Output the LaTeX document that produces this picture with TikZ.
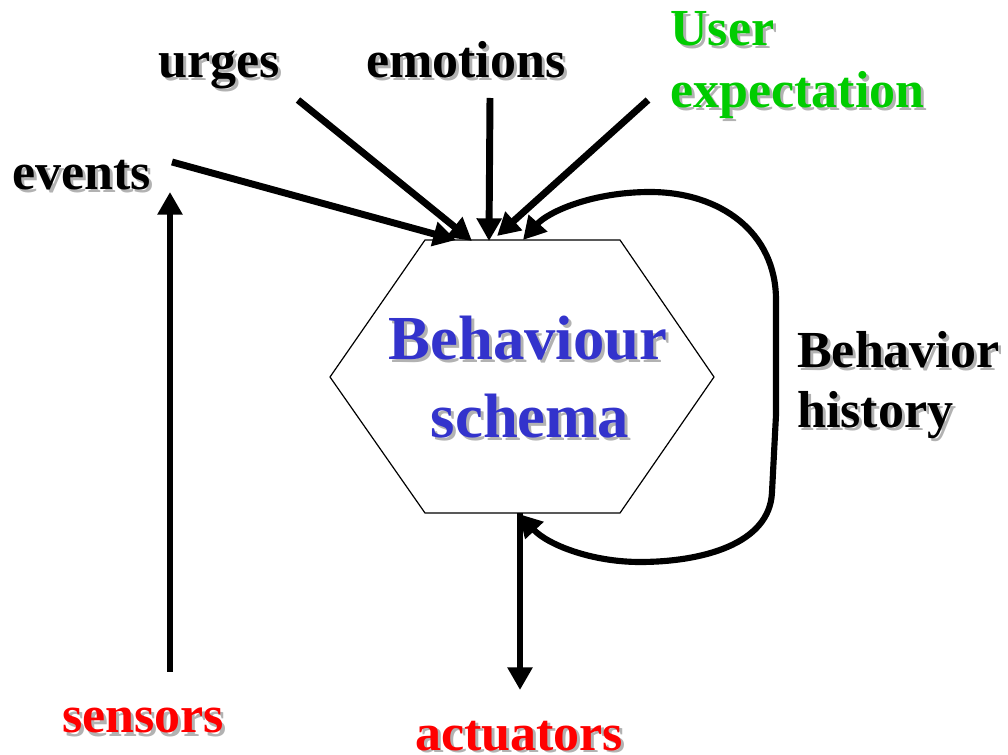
\documentclass[tikz,border=0pt]{standalone}
\usepackage{fontspec}
\setmainfont{Liberation Serif}
\usetikzlibrary{arrows.meta}
\definecolor{shgray}{RGB}{178,178,178}
\definecolor{ugreen}{RGB}{0,204,0}
\definecolor{ured}{RGB}{255,0,0}
\definecolor{ublue}{RGB}{51,51,204}
\tikzset{
  lbl/.style={inner sep=0pt, font=\bfseries\fontsize{39}{45}\selectfont},
  biglbl/.style={inner sep=0pt, font=\bfseries\fontsize{47}{56}\selectfont},
  shadowshift/.style={xshift=2.25pt, yshift=-2.25pt},
  arr/.style={line width=5.2pt, -{Triangle[length=17pt,width=18pt]}},
  looparr/.style={line width=4.6pt, -{Triangle[length=17pt,width=18pt]}},
  hexline/.style={line width=0.9pt}
}
\newcommand\shlbl[5]{%
  \node[lbl, text=shgray, anchor=#3, shadowshift] (#1-sh) at (#2) {#5};
  \node[lbl, text=#4, anchor=#3] (#1) at (#2) {#5};}
\newcommand\shbig[5]{%
  \node[biglbl, text=shgray, anchor=#3, shadowshift] (#1-sh) at (#2) {#5};
  \node[biglbl, text=#4, anchor=#3] (#1) at (#2) {#5};}
\begin{document}
\begin{tikzpicture}[x=0.75pt,y=-0.75pt]
\useasboundingbox (0,0) rectangle (1008,755);
% hexagon
\coordinate (hL) at (330,377);
\coordinate (hTL) at (425,240);
\coordinate (hTR) at (620,240);
\coordinate (hR) at (714,377);
\coordinate (hBR) at (620,513);
\coordinate (hBL) at (425,513);
\draw[hexline] (hL) -- (hTL) -- (hTR) -- (hR) -- (hBR) -- (hBL) -- cycle;
% labels
\shlbl{urges}{158,78}{base west}{black}{urges}
\shlbl{emotions}{366,78}{base west}{black}{emotions}
\shlbl{user}{670,46}{base west}{ugreen}{User}
\shlbl{expect}{670,108}{base west}{ugreen}{expectation}
\shlbl{events}{12,190}{base west}{black}{events}
\shlbl{bhist1}{797,368}{base west}{black}{Behavior}
\shlbl{bhist2}{797,428}{base west}{black}{history}
\shlbl{sensors}{62,733}{base west}{ured}{sensors}
\shlbl{actuators}{415,750}{base west}{ured}{actuators}
\shbig{bs1}{528,360}{base}{ublue}{Behaviour}
\shbig{bs2}{530,438}{base}{ublue}{schema}
% arrow end coordinates
\coordinate (evT) at (172,162);  \coordinate (evH) at (456,240);
\coordinate (urT) at (298,100);  \coordinate (urH) at (472,241);
\coordinate (emT) at (490,98);   \coordinate (emH) at (489,241);
\coordinate (usT) at (648,100);  \coordinate (usH) at (497,236);
\coordinate (loopTop) at (523,240);
\coordinate (loopBot) at (519,514);
\coordinate (joint) at (776,415);
\coordinate (acT) at (520,513);  \coordinate (acH) at (520,690);
\coordinate (seT) at (170,672);  \coordinate (seH) at (170,192);
% arrows
\draw[arr] (evT) -- (evH);
\draw[arr] (urT) -- (urH);
\draw[arr] (emT) -- (emH);
\draw[arr] (usT) -- (usH);
\draw[arr] (acT) -- (acH);
\draw[arr] (seT) -- (seH);
\draw[looparr] (joint) -- (776,300) .. controls (776,232) and (720,192) .. (650,192)
   .. controls (592,192) and (548,212) .. (loopTop);
\draw[looparr] (joint) -- (772,492) .. controls (770,545) and (700,562) .. (640,562)
   .. controls (592,562) and (548,545) .. (loopBot);
\end{tikzpicture}
\end{document}
